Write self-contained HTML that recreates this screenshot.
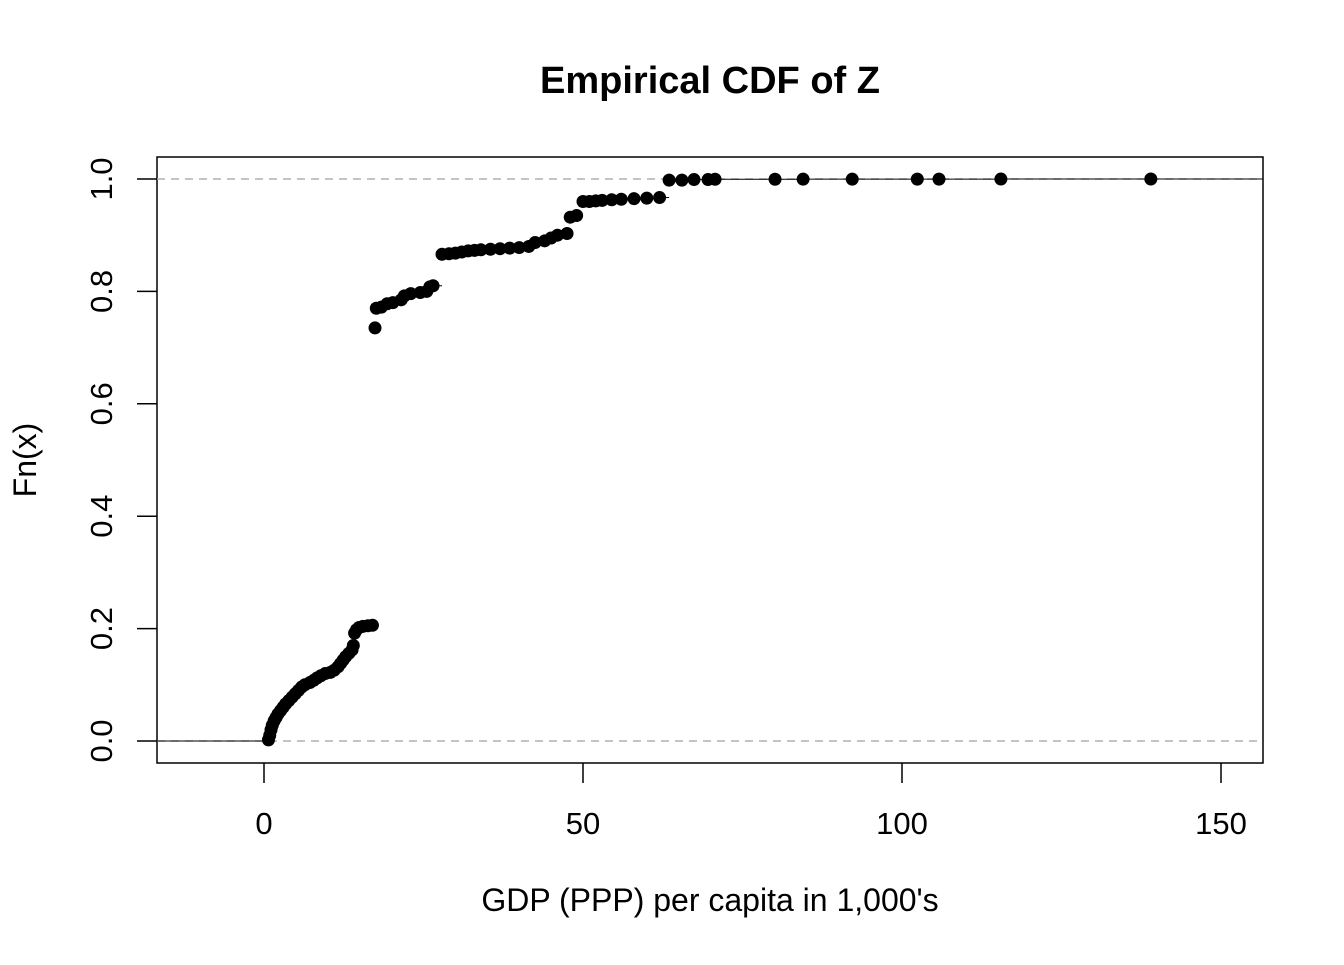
<!DOCTYPE html>
<html><head><meta charset="utf-8"><style>
body{margin:0;background:#fff}
svg text{font-family:"Liberation Sans",Arial,sans-serif;fill:#000}
</style></head><body>
<svg id="c" width="1344" height="960">
<text x="710" y="93" text-anchor="middle" font-size="38" font-weight="bold">Empirical CDF of Z</text>
<text x="710" y="911" text-anchor="middle" font-size="32">GDP (PPP) per capita in 1,000's</text>
<text transform="translate(36,460) rotate(-90)" text-anchor="middle" font-size="32">Fn(x)</text>
<rect x="157" y="157" width="1106" height="606" fill="none" stroke="#000" stroke-width="1.5"/>
<g id="g"></g>
</svg>
<script>
const xs=[0.7,0.9,1.1,1.3,1.6,1.9,2.2,2.6,3.0,3.4,3.9,4.4,4.9,5.4,5.9,6.4,7.2,7.8,8.3,8.9,9.6,10.4,11.0,11.6,12.0,12.4,12.8,13.3,13.8,14.0,14.2,14.5,14.9,15.5,16.3,17.0,
17.4,17.6,18.4,19.3,20.2,21.5,22.0,23.0,24.5,25.5,26.0,26.5,
27.9,29,30,31,32,33,34,35.5,37,38.5,40,41.5,42.5,44,45,46,47.5,48.0,49.0,50.0,51,52,53,54.5,56,58,60,62,
63.5,65.5,67.4,69.6,70.7,80.1,84.5,92.2,102.4,105.8,115.5,139.0];
const Fs=[0.002,0.01,0.02,0.028,0.036,0.042,0.048,0.054,0.06,0.066,0.072,0.078,0.084,0.09,0.096,0.1,0.104,0.108,0.112,0.116,0.12,0.122,0.126,0.132,0.138,0.144,0.15,0.156,0.162,0.17,0.192,0.198,0.202,0.204,0.205,0.206,
0.735,0.77,0.772,0.778,0.78,0.785,0.792,0.796,0.798,0.8,0.808,0.81,
0.866,0.867,0.868,0.87,0.872,0.873,0.874,0.875,0.876,0.877,0.878,0.88,0.887,0.89,0.895,0.9,0.903,0.932,0.935,0.96,0.96,0.961,0.962,0.963,0.964,0.965,0.966,0.967,
0.998,0.998,0.999,0.999,0.9995,0.9996,0.9997,0.9997,0.9998,0.9998,0.9999,1.0];
const xTicks=[0,50,100,150];
const yTicks=[0,0.2,0.4,0.6,0.8,1.0];
const yLabels=["0.0","0.2","0.4","0.6","0.8","1.0"];
const sx=v=>264+v*6.38, sy=v=>741-v*562;
const g=document.getElementById('g');const NS='http://www.w3.org/2000/svg';
function mk(t,a){const e=document.createElementNS(NS,t);for(const k in a)e.setAttribute(k,a[k]);g.appendChild(e);return e;}
[0,1].forEach(v=>{const e=mk('line',{x1:157,x2:1263,y1:sy(v),y2:sy(v),stroke:'#b0b0b0','stroke-width':1.5,'stroke-dasharray':'8,6'});

});
xTicks.forEach(v=>{const l=mk('line',{x1:sx(v),x2:sx(v),y1:763,y2:783,stroke:'#000','stroke-width':1.5});


const t=mk('text',{x:sx(v),y:834,'text-anchor':'middle','font-size':31});t.textContent=v;

});
yTicks.forEach((v,i)=>{const l=mk('line',{x1:137,x2:157,y1:sy(v),y2:sy(v),stroke:'#000','stroke-width':1.5});


const t=mk('text',{transform:`translate(112,${sy(v)}) rotate(-90)`,'text-anchor':'middle','font-size':31});t.textContent=yLabels[i];

});
let s=mk('line',{x1:157,x2:sx(xs[0]),y1:sy(0),y2:sy(0),stroke:'#000','stroke-width':1});


xs.forEach((x,i)=>{const x2=i<xs.length-1?sx(xs[i+1]):1263;
const l=mk('line',{x1:sx(x),x2:x2,y1:sy(Fs[i]),y2:sy(Fs[i]),stroke:'#000','stroke-width':1});

});
xs.forEach((x,i)=>{const c=mk('circle',{cx:sx(x),cy:sy(Fs[i]),r:6.5,fill:'#000'});

});
</script>
</body></html>
